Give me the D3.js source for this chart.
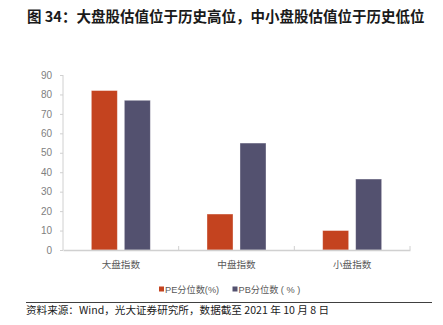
<!DOCTYPE html>
<html>
<head>
<meta charset="utf-8">
<script src="https://cdn.jsdelivr.net/npm/d3@7"></script>
<style>
  html, body { margin: 0; padding: 0; background: #fff; }
  svg { display: block; }
</style>
</head>
<body>
<div id="chart"></div>
<script>
// Valuation percentiles by index size
const categories = ["大盘指数", "中盘指数", "小盘指数"];
const seriesNames = ["PE分位数(%)", "PB分位数 ( % )"];
const peValues = [82, 18.5, 10];
const pbValues = [77, 55, 36.5];
const yTicks = [0, 10, 20, 30, 40, 50, 60, 70, 80, 90];
const colors = ["#C4431F", "#53516F"];

const W = 443, H = 325;
const fontCJK = "'Noto Sans CJK SC', 'Noto Sans', sans-serif";
const fontMixed = "'Liberation Sans', 'Noto Sans CJK SC', sans-serif";
const fontNum = "'Liberation Sans', Arial, sans-serif";

const svg = d3.select("#chart").append("svg")
  .attr("width", W).attr("height", H);

// Title
svg.append("text")
  .attr("x", 27).attr("y", 22)
  .attr("font-family", fontCJK)
  .attr("font-weight", "bold")
  .attr("font-size", 14.5)
  .attr("fill", "#1a1a1a")
  .text("图 34：大盘股估值位于历史高位，中小盘股估值位于历史低位");

const plot = { left: 63, right: 410, top: 75, bottom: 250 };

const x = d3.scaleBand().domain(categories)
  .range([plot.left, plot.right]).paddingInner(0).paddingOuter(0);
const xSub = d3.scaleBand().domain([0, 1])
  .range([0, x.bandwidth()]).paddingInner(0.212).paddingOuter(0.859);
const y = d3.scaleLinear().domain([0, 90]).range([plot.bottom, plot.top]);

const rows = categories.map((c, i) => ({ cat: c, vals: [peValues[i], pbValues[i]] }));

// Bars
const groups = svg.append("g").selectAll("g").data(rows).join("g")
  .attr("transform", d => `translate(${x(d.cat)},0)`);
groups.selectAll("rect").data(d => d.vals.map((v, k) => ({ v, k }))).join("rect")
  .attr("x", d => xSub(d.k))
  .attr("y", d => y(d.v))
  .attr("width", xSub.bandwidth())
  .attr("height", d => y(0) - y(d.v))
  .attr("fill", d => colors[d.k])
  .attr("stroke", "#ffffff")
  .attr("stroke-opacity", 0.45)
  .attr("stroke-width", 0.8);

// Y axis
const yAxis = svg.append("g")
  .attr("transform", `translate(${plot.left},0)`)
  .call(d3.axisLeft(y).tickValues(yTicks).tickSize(3).tickPadding(8));
yAxis.select(".domain").attr("stroke", "#d0d0d0").attr("d", `M0,${plot.top}V${plot.bottom}`);
yAxis.selectAll(".tick line").attr("stroke", "#d0d0d0");
yAxis.selectAll(".tick text")
  .attr("font-family", fontNum).attr("font-size", 10).attr("fill", "#808080");

// X axis
const xAxis = svg.append("g")
  .attr("transform", `translate(0,${plot.bottom})`)
  .call(d3.axisBottom(x).tickSize(0).tickPadding(11));
xAxis.select(".domain").attr("stroke", "#d0d0d0").attr("stroke-width", 1.5);
xAxis.selectAll(".tick text")
  .attr("font-family", fontCJK).attr("font-size", 9.6).attr("fill", "#595959");
// category separators
const bounds = categories.map(c => x(c) + x.bandwidth());
svg.append("g").selectAll("line").data(bounds).join("line")
  .attr("x1", d => d).attr("x2", d => d)
  .attr("y1", plot.bottom - 4).attr("y2", plot.bottom)
  .attr("stroke", "#d0d0d0");

// Legend
const legendItems = [{ name: seriesNames[0], x: 159 }, { name: seriesNames[1], x: 232.5 }];
const lg = svg.append("g").selectAll("g").data(legendItems).join("g")
  .attr("transform", d => `translate(${d.x},289)`);
lg.append("rect").attr("x", 0).attr("y", -2.5).attr("width", 5).attr("height", 5)
  .attr("fill", (d, i) => colors[i]);
lg.append("text").attr("x", 6).attr("y", 3.5)
  .attr("font-family", fontMixed).attr("font-size", 9.2).attr("fill", "#595959")
  .text(d => d.name);

// Footer rule and source
svg.append("line").attr("x1", 26).attr("x2", 432).attr("y1", 302.5).attr("y2", 302.5)
  .attr("stroke", "#404040").attr("stroke-width", 1);
svg.append("text")
  .attr("x", 26).attr("y", 314)
  .attr("font-family", fontCJK).attr("font-size", 10.6).attr("fill", "#1a1a1a")
  .text("资料来源：Wind，光大证券研究所，数据截至 2021 年 10 月 8 日");
</script>
</body>
</html>
